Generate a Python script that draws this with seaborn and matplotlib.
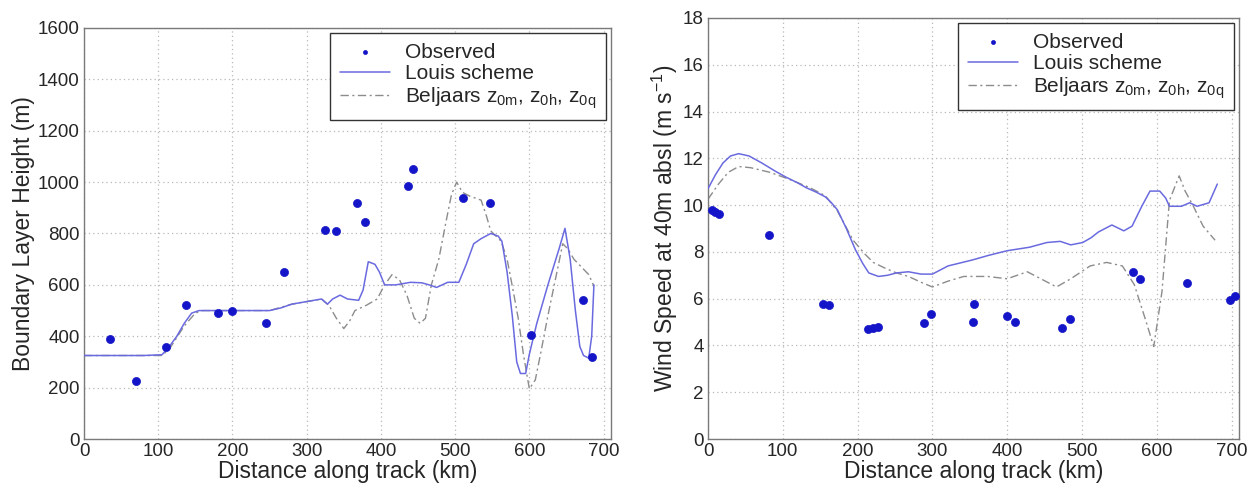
import numpy as np
import pandas as pd
import matplotlib
matplotlib.use("Agg")
import matplotlib.pyplot as plt
import seaborn as sns

# ---------------- Data: left panel (boundary layer height) ----------------
bl_obs_x = [35, 70, 110, 137, 180, 200, 245, 270, 325, 340, 368, 378, 437, 443,
            510, 547, 602, 672, 685]
bl_obs_y = [390, 225, 360, 520, 490, 500, 450, 650, 815, 810, 920, 845, 985, 1050,
            940, 920, 405, 540, 320]

bl_louis_x = [0, 20, 50, 80, 105, 115, 125, 135, 145, 155, 200, 250, 265, 280, 300,
              320, 328, 335, 345, 355, 370, 376, 383, 392, 398, 405, 420, 440, 455,
              465, 475, 490, 505, 515, 525, 535, 548, 558, 563, 570, 577, 583, 588,
              595, 600, 610, 625, 640, 648, 655, 662, 668, 673, 680, 684, 687]
bl_louis_y = [325, 325, 325, 325, 328, 360, 400, 450, 490, 500, 500, 500, 510, 525, 535,
              545, 525, 545, 560, 545, 540, 580, 690, 680, 650, 600, 600, 610, 608,
              600, 590, 610, 610, 680, 760, 780, 800, 790, 770, 650, 480, 300, 255,
              255, 330, 450, 600, 740, 820, 700, 500, 360, 325, 315, 400, 600]

bl_belj_x = [0, 105, 115, 135, 150, 160, 250, 280, 320, 330, 340, 350, 358, 365, 380,
             395, 405, 415, 425, 435, 445, 453, 460, 468, 478, 488, 495, 502, 510,
             520, 535, 542, 548, 555, 562, 570, 578, 585, 592, 600, 608, 615, 625,
             635, 645, 652, 660, 670, 680, 687]
bl_belj_y = [325, 325, 350, 440, 490, 500, 500, 525, 545, 520, 470, 430, 460, 500, 520,
             545, 600, 640, 620, 560, 470, 450, 470, 600, 700, 850, 950, 1000, 960,
             945, 930, 870, 810, 790, 770, 700, 580, 470, 330, 195, 230, 330, 480,
             620, 760, 740, 700, 670, 640, 595]

# ---------------- Data: right panel (wind speed) ----------------
ws_obs_x = [5, 10, 15, 81, 154, 162, 214, 221, 227, 289, 298, 355, 354, 400, 410,
            473, 484, 568, 578, 640, 698, 704]
ws_obs_y = [9.8, 9.7, 9.63, 8.74, 5.79, 5.75, 4.72, 4.75, 4.78, 4.94, 5.36, 5.76, 4.99,
            5.25, 4.99, 4.74, 5.14, 7.13, 6.85, 6.66, 5.96, 6.13]

ws_louis_x = [0, 10, 20, 30, 41, 55, 72, 90, 104, 120, 131, 145, 157, 165, 173, 185,
              197, 207, 215, 228, 240, 252, 268, 285, 300, 321, 353, 375, 400, 430,
              453, 471, 485, 501, 512, 522, 540, 556, 567, 580, 591, 604, 612, 617,
              633, 644, 654, 670, 681]
ws_louis_y = [10.7, 11.3, 11.8, 12.1, 12.2, 12.1, 11.8, 11.45, 11.2, 10.95, 10.75, 10.55,
              10.35, 10.1, 9.8, 9.0, 8.1, 7.5, 7.1, 6.95, 7.0, 7.1, 7.15, 7.05, 7.05,
              7.4, 7.65, 7.85, 8.05, 8.2, 8.4, 8.45, 8.3, 8.4, 8.6, 8.85, 9.15, 8.9,
              9.1, 9.95, 10.6, 10.6, 10.3, 9.95, 9.95, 10.1, 9.95, 10.1, 10.9]

ws_belj_x = [0, 14, 27, 41, 57, 83, 109, 136, 157, 173, 194, 210, 221, 237, 252, 268,
             285, 300, 321, 342, 374, 400, 427, 448, 466, 485, 511, 533, 554, 570,
             585, 596, 607, 617, 630, 638, 649, 662, 678]
ws_belj_y = [10.25, 10.9, 11.4, 11.65, 11.6, 11.4, 11.1, 10.75, 10.4, 9.75, 8.5, 7.9,
             7.55, 7.3, 7.1, 6.95, 6.7, 6.5, 6.75, 6.95, 6.95, 6.85, 7.15, 6.8, 6.5,
             6.85, 7.4, 7.55, 7.4, 6.6, 5.1, 3.95, 6.3, 10.2, 11.25, 10.6, 9.95, 9.1,
             8.5]

x_ticks = [0, 100, 200, 300, 400, 500, 600, 700]
bl_ticks = [0, 200, 400, 600, 800, 1000, 1200, 1400, 1600]
ws_ticks = [0, 2, 4, 6, 8, 10, 12, 14, 16, 18]

legend_labels = ["Observed", "Louis scheme",
                 r"Beljaars z$_{0m}$, z$_{0h}$, z$_{0q}$"]

# ---------------- Style ----------------
sns.set_style("white")
plt.rcParams["font.family"] = ["Liberation Sans", "DejaVu Sans"]
plt.rcParams["mathtext.fontset"] = "custom"
plt.rcParams["mathtext.rm"] = "Liberation Sans"
plt.rcParams["mathtext.it"] = "Liberation Sans"
plt.rcParams["mathtext.bf"] = "Liberation Sans"

OBS_C = "#1414c8"
LOUIS_C = "#6a6ae0"
BELJ_C = "#8c8c8c"
GRID_C = "#b8b8b8"

fig = plt.figure(figsize=(12.56, 4.92), dpi=100)
ax1 = fig.add_axes([84 / 1256, 53 / 492, 527 / 1256, 411 / 492])
ax2 = fig.add_axes([708 / 1256, 53 / 492, 531 / 1256, 421 / 492])


def draw(ax, ox, oy, lx, ly, bx, by, yticks, ylim, xlim, ylabel):
    sns.lineplot(x=lx, y=ly, ax=ax, color=LOUIS_C, lw=1.1, sort=False,
                 estimator=None, label=legend_labels[1], zorder=3)
    sns.lineplot(x=bx, y=by, ax=ax, color=BELJ_C, lw=1.0, sort=False,
                 estimator=None, label=legend_labels[2], zorder=2)
    ax.lines[-1].set_dashes([6, 2.5, 1.5, 2.5])
    sns.scatterplot(x=ox, y=oy, ax=ax, color=OBS_C, s=34, edgecolor=OBS_C,
                    linewidth=0.5, label=legend_labels[0], zorder=4)
    ax.set_xlim(*xlim)
    ax.set_ylim(*ylim)
    ax.set_xticks(x_ticks)
    ax.set_yticks(yticks)
    ax.grid(True, linestyle=(0, (1, 2.5)), color=GRID_C, lw=0.9)
    ax.tick_params(direction="in", length=4, labelsize=13.5, color="#666666",
                   pad=3)
    for s in ax.spines.values():
        s.set_visible(True)
        s.set_color("#7a7a7a")
        s.set_linewidth(1.0)
    ax.set_xlabel("Distance along track (km)", fontsize=16.5, labelpad=0)
    ax.set_ylabel(ylabel, fontsize=16.5, labelpad=2)
    handles, labels = ax.get_legend_handles_labels()
    order = [labels.index(l) for l in legend_labels]
    leg = ax.legend([handles[i] for i in order], [labels[i] for i in order],
                    loc="upper right", fontsize=15, frameon=True, fancybox=False,
                    edgecolor="#333333", framealpha=1, borderaxespad=0.25,
                    labelspacing=0.12, handlelength=2.4, handletextpad=0.75,
                    borderpad=0.45, markerscale=0.5)
    leg.get_frame().set_linewidth(1.0)


draw(ax1, bl_obs_x, bl_obs_y, bl_louis_x, bl_louis_y, bl_belj_x, bl_belj_y,
     bl_ticks, (0, 1600), (0, 710), "Boundary Layer Height (m)")
draw(ax2, ws_obs_x, ws_obs_y, ws_louis_x, ws_louis_y, ws_belj_x, ws_belj_y,
     ws_ticks, (0, 18), (0, 710), r"Wind Speed at 40m absl (m s$^{-1}$)")

fig.savefig("out.png", dpi=100)
